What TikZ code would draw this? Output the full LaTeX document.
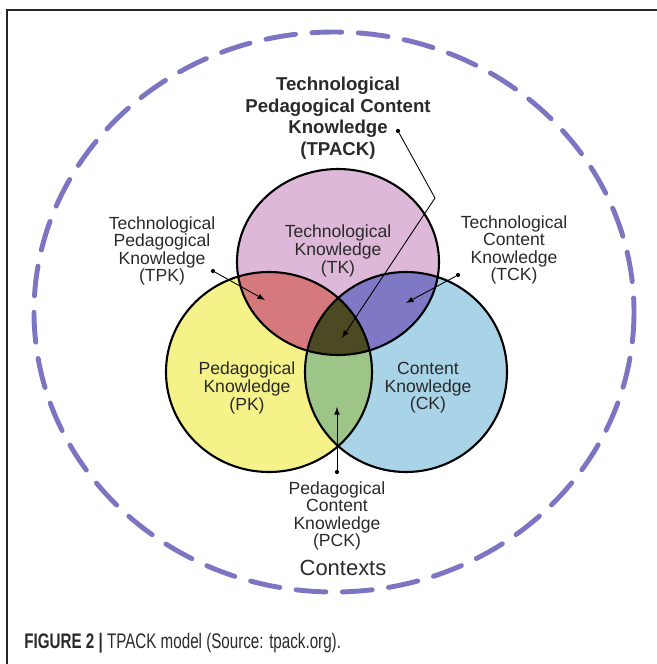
\documentclass[tikz,border=0pt]{standalone}
\usepackage{fontspec}
\setmainfont{Liberation Sans}
\newfontfamily\capfont[FakeStretch=0.72]{Liberation Sans}
\usetikzlibrary{arrows.meta}

\definecolor{tkcol}{HTML}{DDB8D8}
\definecolor{pkcol}{HTML}{F4F288}
\definecolor{ckcol}{HTML}{A9D3E6}
\definecolor{tpkcol}{HTML}{D6797C}
\definecolor{tckcol}{HTML}{7F78C5}
\definecolor{pckcol}{HTML}{9DC587}
\definecolor{tpackcol}{HTML}{4B4A22}
\definecolor{ctxcol}{HTML}{7C76C2}
\definecolor{txtcol}{HTML}{2A2A2A}

\begin{document}
\begin{tikzpicture}[x=0.02cm,y=-0.02cm]
	\tikzstyle{label}=[align=center,text=txtcol,font=\fontsize{10}{10}\selectfont,inner sep=0pt]
	\tikzstyle{dot}=[circle,fill=black,inner sep=0pt,minimum size=2.4pt]
	\tikzstyle{pointer}=[-latex,line width=0.5pt]
	\useasboundingbox (0,0) rectangle (657,664);
	% frame
	\draw[line width=0.7pt,black!85] (657,10) -- (7,10) -- (7,664);
	% contexts
	\draw[ctxcol,line width=2.8pt,line cap=round,dash pattern=on 17pt off 9.4pt] (334,312) ellipse [x radius=300, y radius=280];
	% circles
	\fill[tkcol] (338,262) ellipse [x radius=101, y radius=93];
	\fill[pkcol] (269,372) ellipse [x radius=103, y radius=100];
	\fill[ckcol] (406,372) ellipse [x radius=101, y radius=100];
	\begin{scope}
		\clip (338,262) ellipse [x radius=101, y radius=93];
		\fill[tpkcol] (269,372) ellipse [x radius=103, y radius=100];
		\fill[tckcol] (406,372) ellipse [x radius=101, y radius=100];
	\end{scope}
	\begin{scope}
		\clip (269,372) ellipse [x radius=103, y radius=100];
		\fill[pckcol] (406,372) ellipse [x radius=101, y radius=100];
		\clip (406,372) ellipse [x radius=101, y radius=100];
		\fill[tpackcol] (338,262) ellipse [x radius=101, y radius=93];
	\end{scope}
	\draw[line width=1.2pt] (338,262) ellipse [x radius=101, y radius=93];
	\draw[line width=1.2pt] (269,372) ellipse [x radius=103, y radius=100];
	\draw[line width=1.2pt] (406,372) ellipse [x radius=101, y radius=100];
	% labels
	\node (tpack) [label,font=\fontsize{10.6}{12.3}\selectfont\bfseries] at (338,118) {Technological\\Pedagogical Content\\Knowledge\\(TPACK)};
	\node (tk) [label] at (338,251) {Technological\\Knowledge\\(TK)};
	\node (tpk) [label] at (162,251) {Technological\\Pedagogical\\Knowledge\\(TPK)};
	\node (tck) [label] at (514,250) {Technological\\Content\\Knowledge\\(TCK)};
	\node (pk) [label] at (247,388) {Pedagogical\\Knowledge\\(PK)};
	\node (ck) [label] at (428,388) {Content\\Knowledge\\(CK)};
	\node (pck) [label] at (337,516) {Pedagogical\\Content\\Knowledge\\(PCK)};
	\node (ctx) [label,font=\fontsize{12.5}{12.5}\selectfont] at (343,568) {Contexts};
	\node (caption) [anchor=west,inner sep=0pt,text=txtcol,font=\capfont\fontsize{12}{12}\selectfont] at (24,643) {\textbf{FIGURE 2 |} TPACK model (Source: tpack.org).};
	% pointers
	\node (tpackdot) [dot] at (398,131) {};
	\coordinate (tpackbend) at (435,198);
	\coordinate (tpacktip) at (342,338);
	\draw[pointer] (tpackdot) -- (tpackbend) -- (tpacktip);
	\node (tpkdot) [dot] at (213,271) {};
	\coordinate (tpktip) at (265,300);
	\draw[pointer] (tpkdot) -- (tpktip);
	\node (tckdot) [dot] at (458,275) {};
	\coordinate (tcktip) at (406,303);
	\draw[pointer] (tckdot) -- (tcktip);
	\node (pckdot) [dot] at (337,472) {};
	\coordinate (pcktip) at (337,407);
	\draw[pointer] (pckdot) -- (pcktip);
\end{tikzpicture}
\end{document}
